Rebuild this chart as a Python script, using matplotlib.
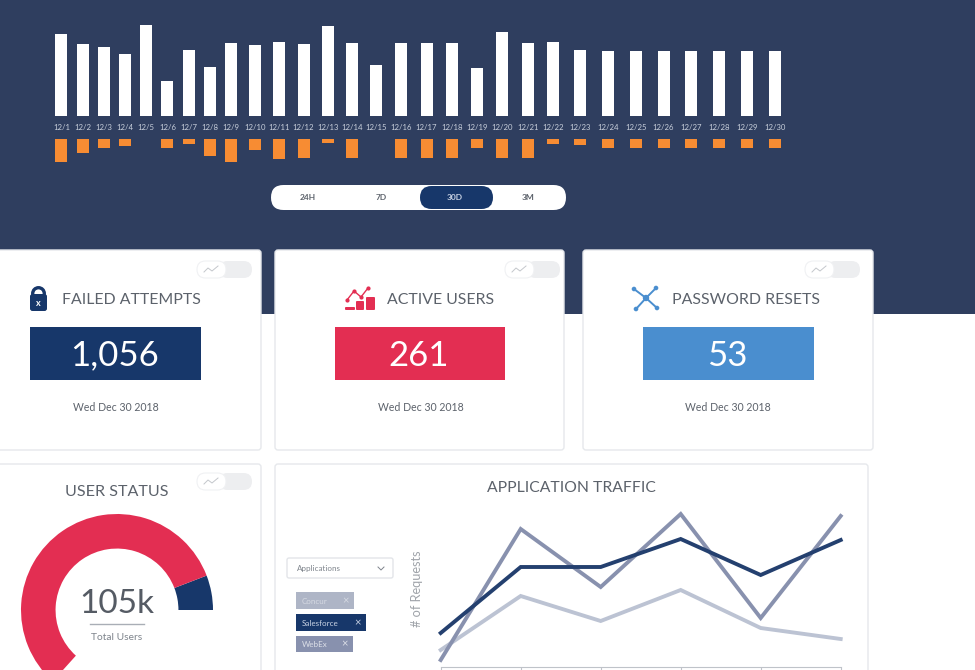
import numpy as np
import matplotlib
matplotlib.use("Agg")
import matplotlib.pyplot as plt
from matplotlib.patches import FancyBboxPatch, Rectangle, Circle

# ---- data ----
days = list(range(1, 31))
day_labels = [f"12/{d}" for d in days]
sessions = [82, 72, 69, 62, 91, 35, 66, 49, 73, 71, 74, 72, 90, 73, 51, 73, 73, 73, 48, 84,
            73, 74, 66, 65, 65, 65, 65, 65, 65, 65]
failures = [23, 14, 9.5, 7, 0, 9, 5, 17, 23, 11, 20, 19, 4, 19, 0, 19, 19, 19, 9, 19,
            19, 5, 6, 9, 9, 9, 9, 9, 9, 9]
range_labels = ["24H", "7D", "30D", "3M"]
kpi_titles = ["FAILED ATTEMPTS", "ACTIVE USERS", "PASSWORD RESETS"]
kpi_values = ["1,056", "261", "53"]
kpi_date = "Wed Dec 30 2018"
status_shares = [21, 207, 132]   # navy, red, hidden part of the dial
traffic_x = [0, 1, 2, 3, 4, 5]
salesforce = [34, 100, 100, 128, 92, 127]
concur = [17, 71, 46, 77, 39, 28]
webex = [7, 138, 80, 153, 49, 151]
chips = ["Concur", "Salesforce", "WebEx"]

# ---- style ----
NAVY_BG = "#2F3E5F"
NAVY = "#17376A"
RED = "#E32E52"
BLUE = "#4A8ECF"
ORANGE = "#F78C33"
GREY = "#5C626B"
plt.rcParams["font.family"] = ["Lato", "DejaVu Sans"]

W, H = 975, 670
fig = plt.figure(figsize=(W / 100, H / 100), dpi=100, facecolor="white")


def px_axes(x0, y0, x1, y1, **kw):
    ax = fig.add_axes([x0 / W, 1 - y1 / H, (x1 - x0) / W, (y1 - y0) / H], **kw)
    ax.patch.set_alpha(0)
    return ax


bg = px_axes(0, 0, W, H)
bg.set_xlim(0, W)
bg.set_ylim(H, 0)
bg.axis("off")


def rrect(x0, y0, x1, y1, r, fc, ec="none", lw=0.0, z=1):
    p = FancyBboxPatch((x0 + r, y0 + r), x1 - x0 - 2 * r, y1 - y0 - 2 * r,
                       boxstyle=f"round,pad={r},rounding_size={r}",
                       fc=fc, ec=ec, lw=lw, zorder=z)
    bg.add_patch(p)
    return p


bg.add_patch(Rectangle((0, 0), W, 314, fc=NAVY_BG, ec="none", zorder=0))

# cards
for x0, y0, x1, y1 in [(-4, 250, 261, 450), (275, 250, 564, 450), (583, 250, 873, 450),
                       (-4, 464, 261, 680), (275, 464, 868, 680)]:
    rrect(x0, y0, x1, y1, 3, "white", "#E6E8EC", 1.0)

# range selector
rrect(271, 185, 566, 210, 12.5, "white")
rrect(420, 186, 493, 209, 11.5, NAVY, z=2)
for lab, x, c in zip(range_labels, [308, 381, 455, 528], [GREY, GREY, "#C9D3E4", GREY]):
    bg.text(x, 197.5, lab, ha="center", va="center", fontsize=6, color=c, zorder=3, fontweight="bold")

# toggles
for x, y in [(197, 261), (505, 261), (805, 261), (197, 473)]:
    rrect(x + 22, y, x + 55, y + 17, 8.5, "#EDEEF0", z=2)
    rrect(x, y, x + 29, y + 17, 8.5, "white", "#F0F1F3", 0.8, z=3)
    bg.plot([x + 7, x + 11, x + 15, x + 21], [y + 11, y + 7, y + 10, y + 5],
            color="#C4C7CC", lw=0.7, zorder=4)

# KPI tiles
for title, value, tx, bx0, bx1, col, dx in zip(
        kpi_titles, kpi_values, [131.5, 440.5, 746], [30, 335, 643], [201, 505, 814],
        [NAVY, RED, BLUE], [116, 421, 728]):
    bg.text(tx, 299.5, title, ha="center", va="center", fontsize=11.4, color=GREY, zorder=3)
    bg.add_patch(Rectangle((bx0, 327), bx1 - bx0, 52.5, fc=col, ec="none", zorder=2))
    bg.text((bx0 + bx1) / 2 - 1, 355.5, value, ha="center", va="center", fontsize=25,
            color="white", zorder=3)
    bg.text(dx, 407.5, kpi_date, ha="center", va="center", fontsize=7.6, color=GREY, zorder=3)

# lock icon
bg.add_patch(Circle((38.5, 293.5), 5.8, fc="none", ec=NAVY, lw=2.4, zorder=3))
rrect(30, 294, 47, 311, 2.5, NAVY, z=4)
bg.text(38.5, 303, "x", ha="center", va="center", fontsize=6.5, color="white", zorder=5, fontweight="bold")

# active users icon
for x0, x1, y0 in [(345, 355, 307), (356, 364, 301), (366, 375, 297)]:
    rrect(x0, y0, x1, 310, 1, RED, z=3)
bg.plot([347, 354, 361, 368], [300, 291, 297, 288], color=RED, lw=1, marker="o", ms=2, zorder=3)

# password resets icon
hub = (646, 298)
for nx, ny in [(634, 289), (656, 288), (657, 308), (636, 309)]:
    bg.plot([hub[0], nx], [hub[1], ny], color=BLUE, lw=1.4, zorder=3)
    bg.add_patch(Circle((nx, ny), 2.3, fc=BLUE, ec="none", zorder=3))
bg.add_patch(Circle(hub, 3.2, fc=BLUE, ec="none", zorder=3))

# lower card labels
bg.text(117, 492.5, "USER STATUS", ha="center", va="center", fontsize=11.6, color=GREY, zorder=3)
bg.text(571, 487.5, "APPLICATION TRAFFIC", ha="center", va="center", fontsize=11.3, color=GREY, zorder=3)
bg.text(116.5, 604, "105k", ha="center", va="center", fontsize=24, color="#555B64", zorder=3)
bg.plot([90, 144], [624, 624], color="#A9AEB6", lw=1, zorder=3)
bg.text(117, 637, "Total Users", ha="center", va="center", fontsize=7.4, color="#7E848C", zorder=3)
bg.text(417, 589, "# of Requests", rotation=90, ha="center", va="center", fontsize=9.2,
        color="#A0A4AA", zorder=3)

# filter
rrect(287, 558, 393, 578, 2, "white", "#E3E5E9", 1, z=2)
bg.text(297, 568.5, "Applications", ha="left", va="center", fontsize=5.8, color="#7E848C", zorder=3)
bg.plot([378, 381, 384], [567, 570, 567], color="#7E848C", lw=0.7, zorder=3)
for lab, y0, y1, x1, fc, tc in zip(chips, [592, 614, 636], [609, 631, 652], [354, 366, 353],
                                   ["#AEB5C6", NAVY, "#8891AE"],
                                   ["#D5D9E2", "#C9D3E4", "#DDE0E8"]):
    bg.add_patch(Rectangle((296, y0), x1 - 296, y1 - y0, fc=fc, ec="none", zorder=2))
    bg.text(302, (y0 + y1) / 2 + 0.5, lab, ha="left", va="center", fontsize=5.8, color=tc, zorder=3)
    bg.text(x1 - 8, (y0 + y1) / 2, "×", ha="center", va="center", fontsize=8, color=tc, zorder=3)

# ---- daily bars: spacing on the reference widens along the month ----
knot_day = np.array([0.0, 1, 9, 15, 22, 23, 30, 31])
knot_px = np.array([40.0, 61.5, 231, 376, 553, 580, 775, 803])


def fwd(v):
    return np.interp(v, knot_day, knot_px)


def inv(v):
    return np.interp(v, knot_px, knot_day)


def bar_widths():
    d = np.array(days, float)
    return 12 / (fwd(d + 0.5) - fwd(d - 0.5))


ax1 = px_axes(40, 25, 803, 116)
ax1.set_xscale("function", functions=(fwd, inv))
ax1.set_xlim(0, 31)
ax1.set_ylim(0, 91)
ax1.bar(days, sessions, width=bar_widths(), color="white")
ax1.set_xticks(days, day_labels)
ax1.tick_params(axis="x", length=0, pad=6, labelsize=5.6, labelcolor="#C9D0DC")
ax1.xaxis.set_minor_locator(matplotlib.ticker.NullLocator())
ax1.set_yticks([])
for s in ax1.spines.values():
    s.set_visible(False)

ax2 = px_axes(40, 139, 803, 165)
ax2.set_xscale("function", functions=(fwd, inv))
ax2.set_xlim(0, 31)
ax2.set_ylim(26, 0)
ax2.bar(days, failures, width=bar_widths(), color=ORANGE)
ax2.axis("off")

# ---- gauge ----
ax3 = px_axes(21, 514, 213, 706)
wedges, _ = ax3.pie(status_shares, colors=[NAVY, RED, "none"], startangle=0, counterclock=True,
                    radius=1.0, wedgeprops=dict(width=0.36, linewidth=0))
wedges[2].set_visible(False)
ax3.set_xlim(-1, 1)
ax3.set_ylim(-1, 1)

# ---- traffic lines ----
ax4 = px_axes(440.7, 500, 840.7, 667)
ax4.set_xlim(0, 5)
ax4.set_ylim(0, 167)
ax4.plot(traffic_x, concur, color="#BCC3D3", lw=2.8, solid_joinstyle="miter", clip_on=False)
ax4.plot(traffic_x, webex, color="#8891AE", lw=2.8, solid_joinstyle="miter", clip_on=False)
ax4.plot(traffic_x, salesforce, color="#24406F", lw=2.8, solid_joinstyle="miter", clip_on=False)
ax4.set_xticks(traffic_x, [""] * 6)
ax4.set_yticks([])
ax4.tick_params(axis="x", length=4, color="#BFC3C9", width=0.8)
for side in ["top", "left", "right"]:
    ax4.spines[side].set_visible(False)
ax4.spines["bottom"].set_color("#BFC3C9")
ax4.spines["bottom"].set_linewidth(0.8)

fig.savefig("out.png", dpi=100)
